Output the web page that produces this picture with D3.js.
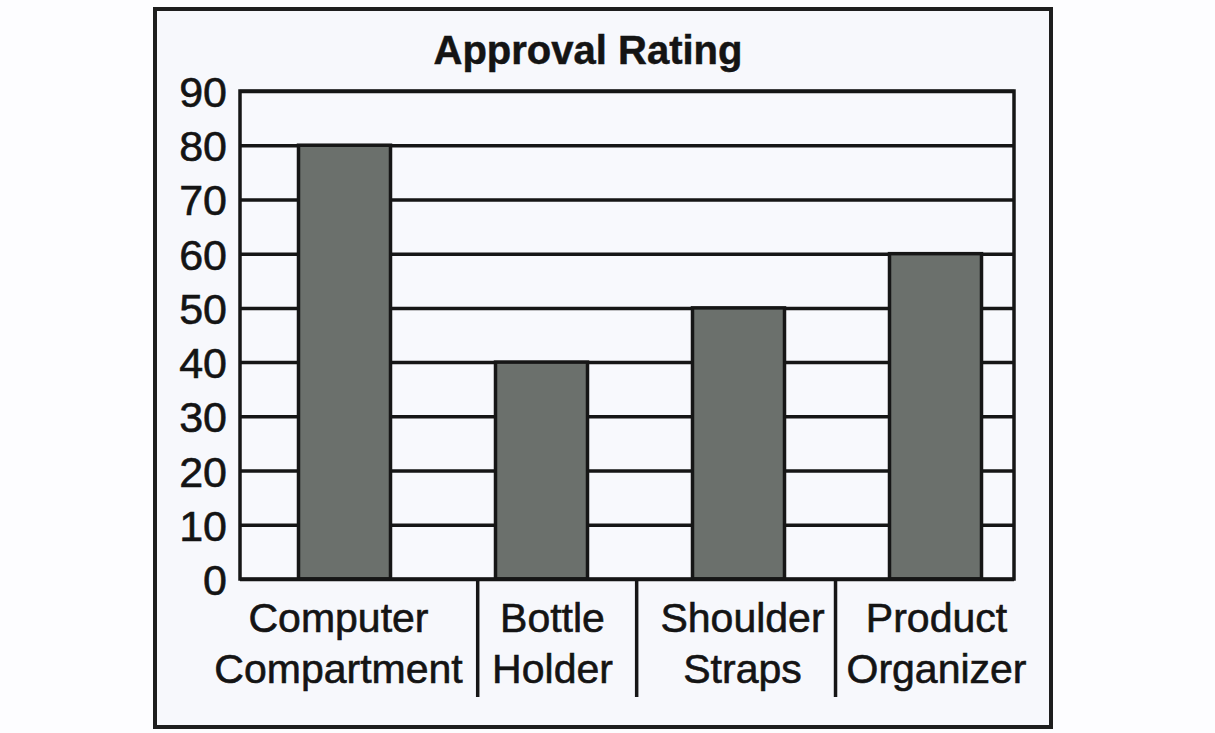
<!DOCTYPE html>
<html>
<head>
<meta charset="utf-8">
<script src="https://cdn.jsdelivr.net/npm/d3@7/dist/d3.min.js"></script>
<style>
  html, body { margin: 0; padding: 0; background: #fdfdff; }
  svg { display: block; }
  text { font-family: "Liberation Sans", Arial, sans-serif; fill: #141414; }
</style>
</head>
<body>
<svg id="chart" width="1215" height="733"></svg>
<script>
// ---- data ----
const title = "Approval Rating";
const categories = ["Computer Compartment", "Bottle Holder", "Shoulder Straps", "Product Organizer"];
const values = [80, 40, 50, 60];
const yTicks = [0, 10, 20, 30, 40, 50, 60, 70, 80, 90];
const yDomain = [0, 90];

// ---- layout ----
const W = 1215, H = 733;
const frame = { x: 155, y: 9, w: 896, h: 718 };
const plot = { left: 240, right: 1014, top: 91, bottom: 579 };
const labelNudge = [-6, 11, 4, 1];
const ink = "#161616";

const svg = d3.select("#chart");

svg.append("rect").attr("width", W).attr("height", H).attr("fill", "#fdfdff");

// outer frame
svg.append("rect")
  .attr("x", frame.x).attr("y", frame.y)
  .attr("width", frame.w).attr("height", frame.h)
  .attr("fill", "#f7f8fc")
  .attr("stroke", "#1e1e1e").attr("stroke-width", 4);

// scales
const x = d3.scaleBand()
  .domain(categories)
  .range([246, 1034])
  .paddingInner(0.533)
  .paddingOuter(0.2665);

const y = d3.scaleLinear().domain(yDomain).range([plot.bottom, plot.top]);

// plot background
svg.append("rect")
  .attr("x", plot.left).attr("y", plot.top)
  .attr("width", plot.right - plot.left).attr("height", plot.bottom - plot.top)
  .attr("fill", "#f8f9fd");

// gridlines + tick labels via axis
const yAxis = d3.axisLeft(y)
  .tickValues(yTicks)
  .tickSize(-(plot.right - plot.left))
  .tickPadding(13)
  .tickFormat(d3.format("d"));

const gAxis = svg.append("g")
  .attr("transform", `translate(${plot.left},0)`)
  .call(yAxis);
gAxis.select(".domain").remove();
gAxis.selectAll(".tick line")
  .attr("stroke", ink).attr("stroke-width", 3.5);
gAxis.selectAll(".tick text")
  .attr("font-size", 43)
  .attr("font-family", "'Liberation Sans', Arial, sans-serif")
  .attr("fill", "#141414")
  .attr("stroke", "#141414").attr("stroke-width", 0.6)
  .attr("dy", "0.36em");

// bars
svg.append("g").selectAll("rect")
  .data(categories)
  .join("rect")
  .attr("x", d => x(d))
  .attr("y", (d, i) => y(values[i]))
  .attr("width", x.bandwidth())
  .attr("height", (d, i) => y(0) - y(values[i]))
  .attr("fill", "#6b706c")
  .attr("stroke", ink).attr("stroke-width", 3.5);

// plot border
svg.append("rect")
  .attr("x", plot.left).attr("y", plot.top)
  .attr("width", plot.right - plot.left).attr("height", plot.bottom - plot.top)
  .attr("fill", "none")
  .attr("stroke", ink).attr("stroke-width", 3.5);

// title
svg.append("text")
  .attr("x", 588).attr("y", 64)
  .attr("text-anchor", "middle")
  .attr("font-size", 40).attr("font-weight", "bold")
  .attr("stroke", "#141414").attr("stroke-width", 0.5)
  .text(title);

// category labels
const labelGroups = svg.append("g").selectAll("text")
  .data(categories)
  .join("text")
  .attr("text-anchor", "middle")
  .attr("font-size", 41)
  .attr("stroke", "#141414").attr("stroke-width", 0.6)
  .attr("transform", (d, i) => `translate(${x(d) + x.bandwidth() / 2 + labelNudge[i]},0)`);

labelGroups.each(function(d) {
  const words = d.split(" ");
  const t = d3.select(this);
  words.forEach((w, j) => {
    t.append("tspan").attr("x", 0).attr("y", 632 + j * 51).text(w);
  });
});

// separators midway between adjacent labels
const boxes = [];
labelGroups.each(function(d, i) {
  const b = this.getBBox();
  const cx = x(d) + x.bandwidth() / 2 + labelNudge[i];
  boxes.push({ l: cx + b.x, r: cx + b.x + b.width });
});
const seps = d3.range(boxes.length - 1).map(i => (boxes[i].r + boxes[i + 1].l) / 2);
svg.append("g").selectAll("line")
  .data(seps)
  .join("line")
  .attr("x1", d => d).attr("x2", d => d)
  .attr("y1", plot.bottom).attr("y2", 697)
  .attr("stroke", ink).attr("stroke-width", 3.5);
</script>
</body>
</html>
